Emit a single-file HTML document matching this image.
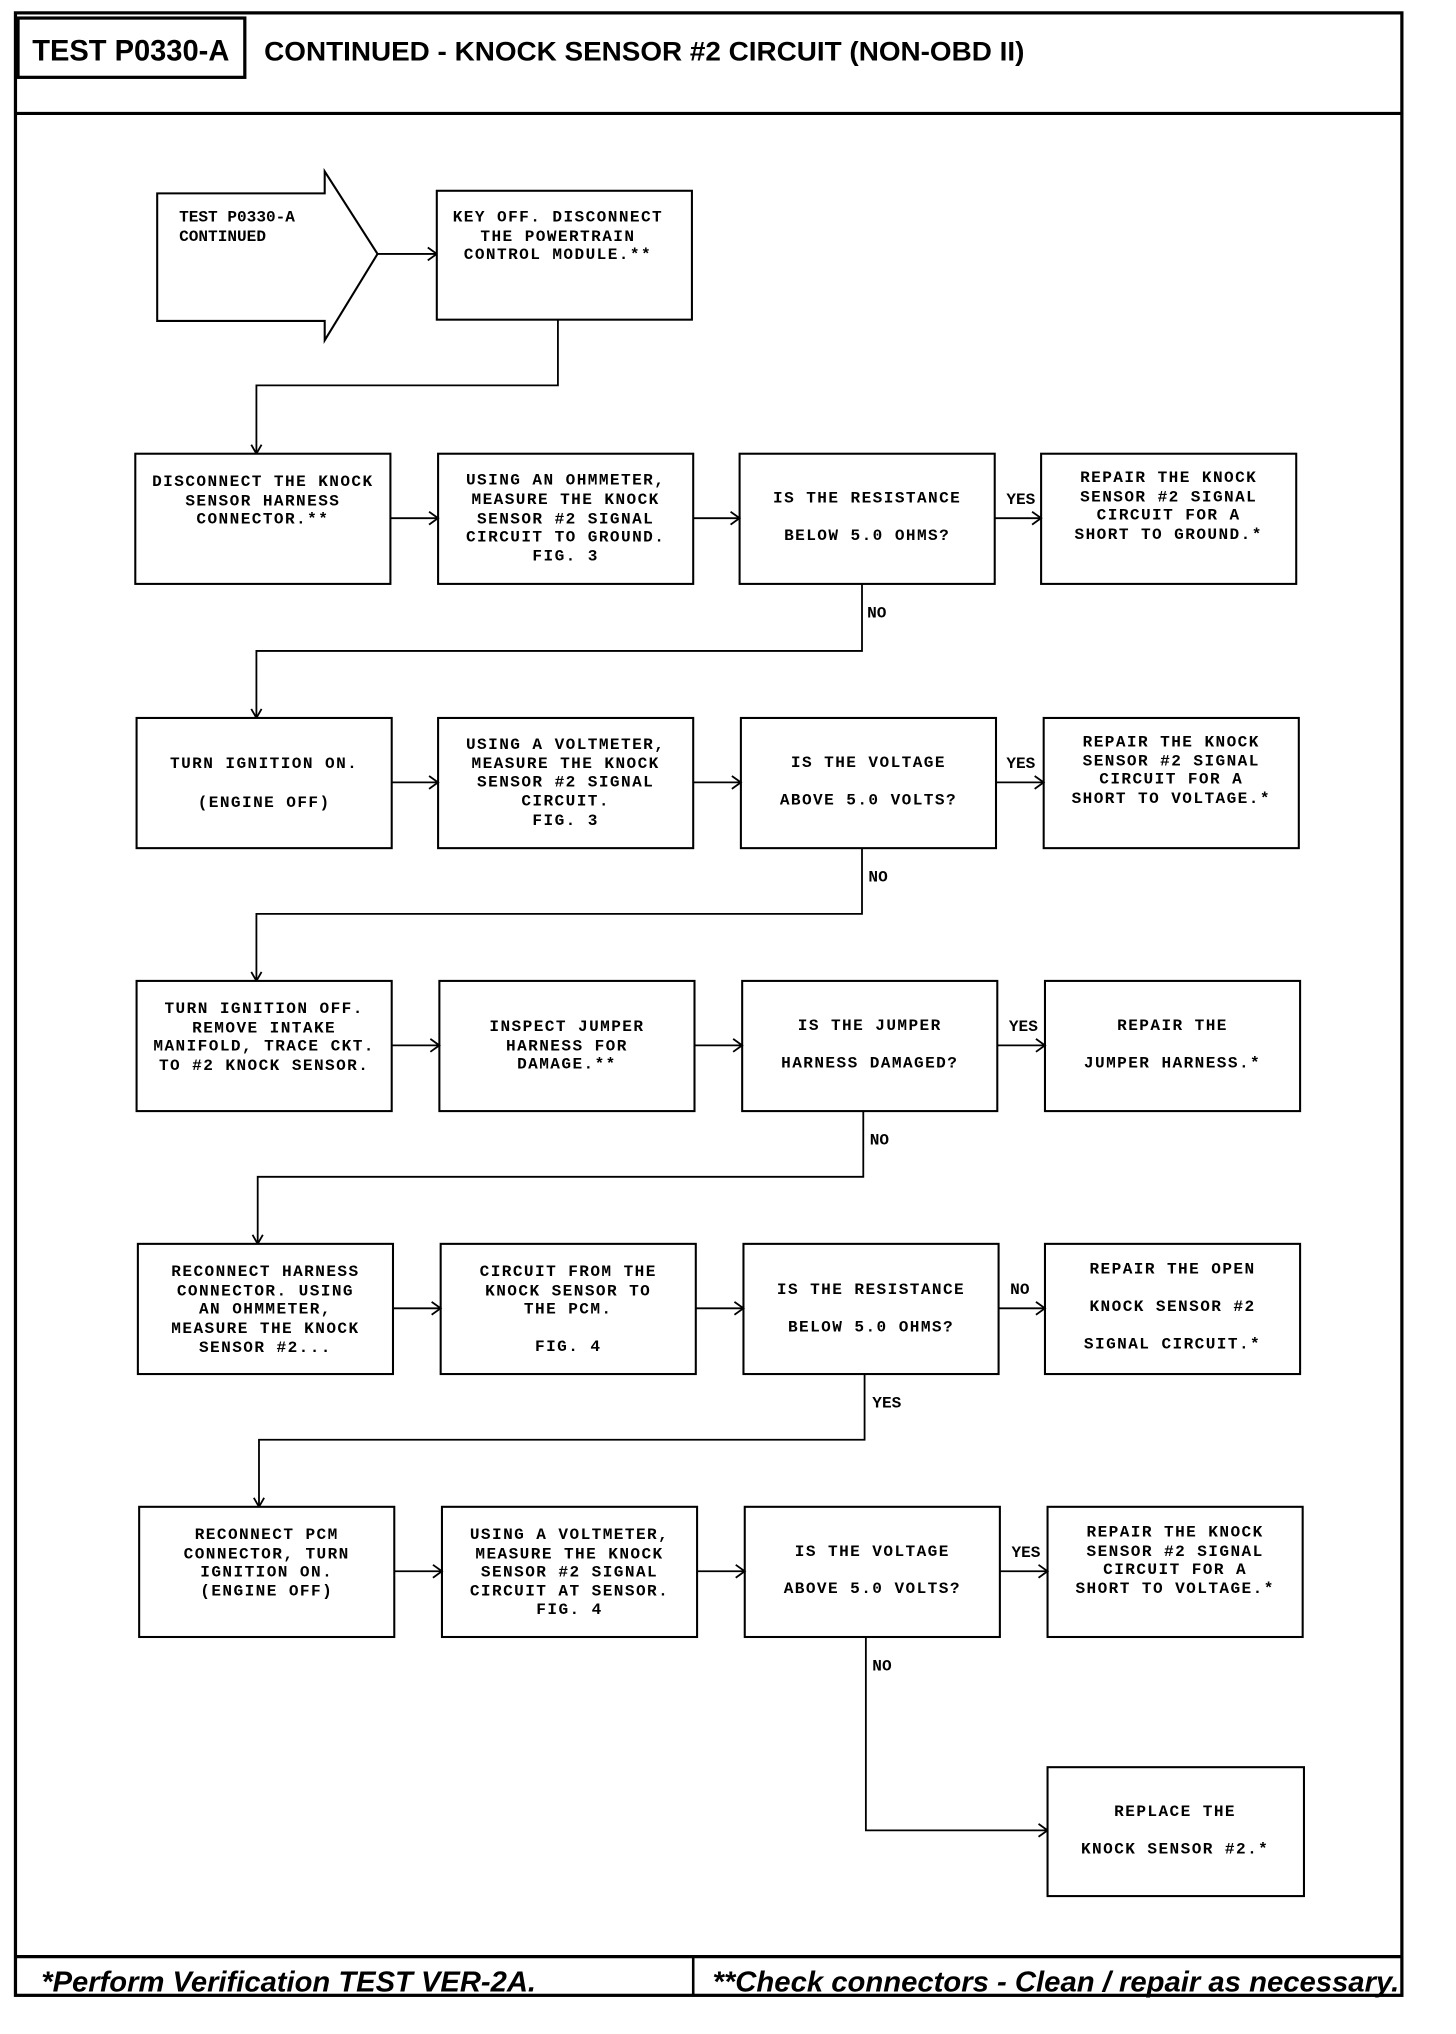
<!DOCTYPE html>
<html><head><meta charset="utf-8"><style>
html,body{margin:0;padding:0;background:#fff;}
svg{display:block;}
.t{font-family:"Liberation Mono",monospace;font-size:12.5px;font-weight:bold;letter-spacing:1.1px;fill:#000;text-anchor:middle;}
.l{font-family:"Liberation Mono",monospace;font-size:12.5px;font-weight:bold;fill:#000;}
.b{fill:#fff;stroke:#000;stroke-width:1.6;}
.c{fill:none;stroke:#000;stroke-width:1.4;}
.h{fill:none;stroke:#000;stroke-width:1.4;}
</style></head><body>
<svg width="1456" height="2034" viewBox="0 0 1130 1578" preserveAspectRatio="none" xmlns="http://www.w3.org/2000/svg">
<!-- frame -->
<rect x="12" y="10" width="1076" height="1538" fill="none" stroke="#000" stroke-width="2.5"/>
<line x1="12" y1="88" x2="1088" y2="88" stroke="#000" stroke-width="2.5"/>
<rect x="14" y="14" width="176" height="46" fill="none" stroke="#000" stroke-width="2.5"/>
<text x="25" y="47" font-family="Liberation Sans, sans-serif" font-weight="bold" font-size="23" textLength="153" lengthAdjust="spacingAndGlyphs">TEST P0330-A</text>
<text x="205" y="47" font-family="Liberation Sans, sans-serif" font-weight="bold" font-size="21" textLength="590" lengthAdjust="spacingAndGlyphs">CONTINUED - KNOCK SENSOR #2 CIRCUIT (NON-OBD II)</text>
<line x1="12" y1="1518" x2="1088" y2="1518" stroke="#000" stroke-width="2.5"/>
<line x1="538" y1="1518" x2="538" y2="1548" stroke="#000" stroke-width="2"/>
<text x="32" y="1545" font-family="Liberation Sans, sans-serif" font-weight="bold" font-style="italic" font-size="22" textLength="384" lengthAdjust="spacingAndGlyphs">*Perform Verification TEST VER-2A.</text>
<text x="553" y="1545" font-family="Liberation Sans, sans-serif" font-weight="bold" font-style="italic" font-size="22" textLength="533" lengthAdjust="spacingAndGlyphs">**Check connectors - Clean / repair as necessary.</text>

<!-- start -->
<polygon class="b" points="122,150 252,150 252,133 293,197 252,264 252,249 122,249"/>
<text class="l" x="139" y="172">TEST P0330-A</text>
<text class="l" x="139" y="187">CONTINUED</text>
<line class="c" x1="293" y1="197" x2="339" y2="197"/><polyline class="h" points="332,192 339,197 332,202"/>
<rect class="b" x="339" y="148" width="198" height="100"/>
<text class="t" x="433" y="172">KEY OFF. DISCONNECT</text>
<text class="t" x="433" y="187">THE POWERTRAIN</text>
<text class="t" x="433" y="201">CONTROL MODULE.**</text>
<polyline class="c" points="433,248 433,299 199,299 199,352"/><polyline class="h" points="195,345 199,352 203,345"/>

<!-- Row1 -->
<rect class="b" x="105" y="352" width="198" height="101"/>
<rect class="b" x="340" y="352" width="198" height="101"/>
<rect class="b" x="574" y="352" width="198" height="101"/>
<rect class="b" x="808" y="352" width="198" height="101"/>
<line class="c" x1="303" y1="402" x2="340" y2="402"/><polyline class="h" points="333,397 340,402 333,407"/>
<line class="c" x1="538" y1="402" x2="574" y2="402"/><polyline class="h" points="567,397 574,402 567,407"/>
<line class="c" x1="772" y1="402" x2="808" y2="402"/><polyline class="h" points="801,397 808,402 801,407"/>
<text class="l" x="781" y="391">YES</text>
<text class="t" x="204" y="377">DISCONNECT THE KNOCK</text><text class="t" x="204" y="392">SENSOR HARNESS</text><text class="t" x="204" y="406">CONNECTOR.**</text>
<text class="t" x="439" y="376">USING AN OHMMETER,</text><text class="t" x="439" y="391">MEASURE THE KNOCK</text><text class="t" x="439" y="406">SENSOR #2 SIGNAL</text><text class="t" x="439" y="420">CIRCUIT TO GROUND.</text><text class="t" x="439" y="435">FIG. 3</text>
<text class="t" x="673" y="390">IS THE RESISTANCE</text><text class="t" x="673" y="419">BELOW 5.0 OHMS?</text>
<text class="t" x="907" y="374">REPAIR THE KNOCK</text><text class="t" x="907" y="389">SENSOR #2 SIGNAL</text><text class="t" x="907" y="403">CIRCUIT FOR A</text><text class="t" x="907" y="418">SHORT TO GROUND.*</text>
<polyline class="c" points="669,453 669,505 199,505 199,557"/><polyline class="h" points="195,550 199,557 203,550"/>
<text class="l" x="673" y="479">NO</text>

<!-- Row2 -->
<rect class="b" x="106" y="557" width="198" height="101"/>
<rect class="b" x="340" y="557" width="198" height="101"/>
<rect class="b" x="575" y="557" width="198" height="101"/>
<rect class="b" x="810" y="557" width="198" height="101"/>
<line class="c" x1="304" y1="607" x2="340" y2="607"/><polyline class="h" points="333,602 340,607 333,612"/>
<line class="c" x1="538" y1="607" x2="575" y2="607"/><polyline class="h" points="568,602 575,607 568,612"/>
<line class="c" x1="773" y1="607" x2="810" y2="607"/><polyline class="h" points="803,602 810,607 803,612"/>
<text class="l" x="781" y="596">YES</text>
<text class="t" x="205" y="596">TURN IGNITION ON.</text><text class="t" x="205" y="626">(ENGINE OFF)</text>
<text class="t" x="439" y="581">USING A VOLTMETER,</text><text class="t" x="439" y="596">MEASURE THE KNOCK</text><text class="t" x="439" y="610">SENSOR #2 SIGNAL</text><text class="t" x="439" y="625">CIRCUIT.</text><text class="t" x="439" y="640">FIG. 3</text>
<text class="t" x="674" y="595">IS THE VOLTAGE</text><text class="t" x="674" y="624">ABOVE 5.0 VOLTS?</text>
<text class="t" x="909" y="579">REPAIR THE KNOCK</text><text class="t" x="909" y="594">SENSOR #2 SIGNAL</text><text class="t" x="909" y="608">CIRCUIT FOR A</text><text class="t" x="909" y="623">SHORT TO VOLTAGE.*</text>
<polyline class="c" points="669,658 669,709 199,709 199,761"/><polyline class="h" points="195,754 199,761 203,754"/>
<text class="l" x="674" y="684">NO</text>

<!-- Row3 -->
<rect class="b" x="106" y="761" width="198" height="101"/>
<rect class="b" x="341" y="761" width="198" height="101"/>
<rect class="b" x="576" y="761" width="198" height="101"/>
<rect class="b" x="811" y="761" width="198" height="101"/>
<line class="c" x1="304" y1="811" x2="341" y2="811"/><polyline class="h" points="334,806 341,811 334,816"/>
<line class="c" x1="539" y1="811" x2="576" y2="811"/><polyline class="h" points="569,806 576,811 569,816"/>
<line class="c" x1="774" y1="811" x2="811" y2="811"/><polyline class="h" points="804,806 811,811 804,816"/>
<text class="l" x="783" y="800">YES</text>
<text class="t" x="205" y="786">TURN IGNITION OFF.</text><text class="t" x="205" y="801">REMOVE INTAKE</text><text class="t" x="205" y="815">MANIFOLD, TRACE CKT.</text><text class="t" x="205" y="830">TO #2 KNOCK SENSOR.</text>
<text class="t" x="440" y="800">INSPECT JUMPER</text><text class="t" x="440" y="815">HARNESS FOR</text><text class="t" x="440" y="829">DAMAGE.**</text>
<text class="t" x="675" y="799">IS THE JUMPER</text><text class="t" x="675" y="828">HARNESS DAMAGED?</text>
<text class="t" x="910" y="799">REPAIR THE</text><text class="t" x="910" y="828">JUMPER HARNESS.*</text>
<polyline class="c" points="670,862 670,913 200,913 200,965"/><polyline class="h" points="196,958 200,965 204,958"/>
<text class="l" x="675" y="888">NO</text>

<!-- Row4 -->
<rect class="b" x="107" y="965" width="198" height="101"/>
<rect class="b" x="342" y="965" width="198" height="101"/>
<rect class="b" x="577" y="965" width="198" height="101"/>
<rect class="b" x="811" y="965" width="198" height="101"/>
<line class="c" x1="305" y1="1015" x2="342" y2="1015"/><polyline class="h" points="335,1010 342,1015 335,1020"/>
<line class="c" x1="540" y1="1015" x2="577" y2="1015"/><polyline class="h" points="570,1010 577,1015 570,1020"/>
<line class="c" x1="775" y1="1015" x2="811" y2="1015"/><polyline class="h" points="804,1010 811,1015 804,1020"/>
<text class="l" x="784" y="1004">NO</text>
<text class="t" x="206" y="990">RECONNECT HARNESS</text><text class="t" x="206" y="1005">CONNECTOR. USING</text><text class="t" x="206" y="1019">AN OHMMETER,</text><text class="t" x="206" y="1034">MEASURE THE KNOCK</text><text class="t" x="206" y="1049">SENSOR #2...</text>
<text class="t" x="441" y="990">CIRCUIT FROM THE</text><text class="t" x="441" y="1005">KNOCK SENSOR TO</text><text class="t" x="441" y="1019">THE PCM.</text><text class="t" x="441" y="1048">FIG. 4</text>
<text class="t" x="676" y="1004">IS THE RESISTANCE</text><text class="t" x="676" y="1033">BELOW 5.0 OHMS?</text>
<text class="t" x="910" y="988">REPAIR THE OPEN</text><text class="t" x="910" y="1017">KNOCK SENSOR #2</text><text class="t" x="910" y="1046">SIGNAL CIRCUIT.*</text>
<polyline class="c" points="671,1066 671,1117 201,1117 201,1169"/><polyline class="h" points="197,1162 201,1169 205,1162"/>
<text class="l" x="677" y="1092">YES</text>

<!-- Row5 -->
<rect class="b" x="108" y="1169" width="198" height="101"/>
<rect class="b" x="343" y="1169" width="198" height="101"/>
<rect class="b" x="578" y="1169" width="198" height="101"/>
<rect class="b" x="813" y="1169" width="198" height="101"/>
<line class="c" x1="306" y1="1219" x2="343" y2="1219"/><polyline class="h" points="336,1214 343,1219 336,1224"/>
<line class="c" x1="541" y1="1219" x2="578" y2="1219"/><polyline class="h" points="571,1214 578,1219 571,1224"/>
<line class="c" x1="776" y1="1219" x2="813" y2="1219"/><polyline class="h" points="806,1214 813,1219 806,1224"/>
<text class="l" x="785" y="1208">YES</text>
<text class="t" x="207" y="1194">RECONNECT PCM</text><text class="t" x="207" y="1209">CONNECTOR, TURN</text><text class="t" x="207" y="1223">IGNITION ON.</text><text class="t" x="207" y="1238">(ENGINE OFF)</text>
<text class="t" x="442" y="1194">USING A VOLTMETER,</text><text class="t" x="442" y="1209">MEASURE THE KNOCK</text><text class="t" x="442" y="1223">SENSOR #2 SIGNAL</text><text class="t" x="442" y="1238">CIRCUIT AT SENSOR.</text><text class="t" x="442" y="1252">FIG. 4</text>
<text class="t" x="677" y="1207">IS THE VOLTAGE</text><text class="t" x="677" y="1236">ABOVE 5.0 VOLTS?</text>
<text class="t" x="912" y="1192">REPAIR THE KNOCK</text><text class="t" x="912" y="1207">SENSOR #2 SIGNAL</text><text class="t" x="912" y="1221">CIRCUIT FOR A</text><text class="t" x="912" y="1236">SHORT TO VOLTAGE.*</text>
<polyline class="c" points="672,1270 672,1420 813,1420"/><polyline class="h" points="806,1415 813,1420 806,1425"/>
<text class="l" x="677" y="1296">NO</text>

<rect class="b" x="813" y="1371" width="199" height="100"/>
<text class="t" x="912" y="1409">REPLACE THE</text><text class="t" x="912" y="1438">KNOCK SENSOR #2.*</text>
</svg>
</body></html>
